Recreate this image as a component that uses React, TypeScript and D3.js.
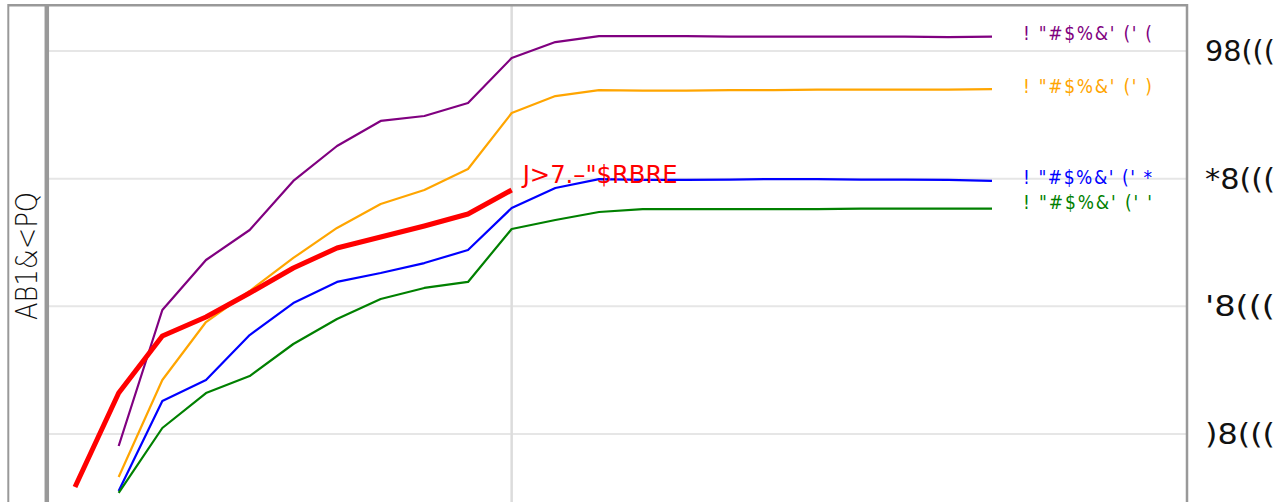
import React from 'react';
import * as d3 from 'd3';

// series values, index 0 = first x step
const purpleVals = [0.906, 1.971, 2.363, 2.598, 2.982, 3.256, 3.452, 3.491, 3.593, 3.945, 4.07, 4.117, 4.117, 4.117, 4.113, 4.113, 4.113, 4.113, 4.113, 4.109, 4.113];
const orangeVals = [0.663, 1.423, 1.877, 2.12, 2.379, 2.614, 2.802, 2.911, 3.076, 3.514, 3.647, 3.694, 3.69, 3.69, 3.694, 3.694, 3.698, 3.698, 3.698, 3.698, 3.702];
const blueVals = [0.554, 1.258, 1.423, 1.775, 2.026, 2.191, 2.261, 2.339, 2.441, 2.77, 2.927, 2.997, 2.99, 2.99, 2.993, 2.997, 2.997, 2.993, 2.993, 2.99, 2.982];
const greenVals = [0.538, 1.047, 1.321, 1.454, 1.705, 1.901, 2.057, 2.144, 2.191, 2.606, 2.676, 2.739, 2.762, 2.762, 2.762, 2.762, 2.762, 2.766, 2.766, 2.766, 2.766];
const redVals = [0.585, 1.321, 1.768, 1.916, 2.104, 2.3, 2.457, 2.543, 2.629, 2.723, 2.911];

const yTicks = [4, 3, 2, 1];
const yTickLabels = ['98(((', '*8(((', "'8(((", ')8((('];
const yTitle = 'AB1&<PQ';
const redNote = 'J>7.–"$RBRE';

const series = [
  { key: 'purple', vals: purpleVals, start: 1, color: '#800080', label: '! "#$%&\' (\' (', dy: 3 },
  { key: 'orange', vals: orangeVals, start: 1, color: '#FFA500', label: '! "#$%&\' (\' )', dy: 4 },
  { key: 'blue', vals: blueVals, start: 1, color: '#0000FF', label: '! "#$%&\' (\' *', dy: 3 },
  { key: 'green', vals: greenVals, start: 1, color: '#008000', label: '! "#$%&\' (\' \'', dy: 0 },
];

const W = 1287;
const H = 502;
const condensed = "'DejaVu Sans Condensed', 'Liberation Sans Narrow', sans-serif";

export default function App() {
  const x = d3.scaleLinear().domain([0, 21]).range([75, 992]);
  const y = d3.scaleLinear().domain([1, 4]).range([434, 51]);

  const line = d3.line<[number, number]>()
    .x(d => x(d[0]))
    .y(d => y(d[1]));

  const pts = (vals: number[], start: number) =>
    vals.map((v, i) => [i + start, v] as [number, number]);

  const redPts = pts(redVals, 0);
  const redEnd = redPts[redPts.length - 1];

  return (
    <div style={{ position: 'fixed', left: 0, top: 0, width: W, height: H, background: '#fff' }}>
      <svg width={W} height={H} style={{ display: 'block' }}>
        {/* grid */}
        {yTicks.map(t => (
          <line key={t} x1={49} x2={1186} y1={y(t)} y2={y(t)} stroke="#e6e6e6" strokeWidth={2} />
        ))}
        <line x1={x(10)} x2={x(10)} y1={6} y2={H} stroke="#dcdcdc" strokeWidth={2.5} />

        {/* frame */}
        <line x1={8} x2={1187} y1={5.3} y2={5.3} stroke="#999" strokeWidth={2.5} />
        <line x1={8.3} x2={8.3} y1={4} y2={H} stroke="#999" strokeWidth={2} />
        <line x1={1187} x2={1187} y1={4} y2={H} stroke="#999" strokeWidth={2.5} />
        <line x1={46.8} x2={46.8} y1={4} y2={H} stroke="#999" strokeWidth={4.5} />

        {/* y title */}
        <text
          transform={`translate(37, 256) rotate(-90)`}
          textAnchor="middle"
          fontFamily="'DejaVu Sans', sans-serif"
          fontWeight={300}
          fontSize={30}
          textLength={128}
          lengthAdjust="spacingAndGlyphs"
          fill="#111"
        >{yTitle}</text>

        {/* tick labels */}
        {yTicks.map((t, i) => (
          <text
            key={t}
            x={1205}
            y={y(t) + 10}
            fontFamily={condensed}
            fontSize={29}
            textLength={70}
            lengthAdjust="spacingAndGlyphs"
            fill="#111"
          >{yTickLabels[i]}</text>
        ))}

        {/* series */}
        {series.map(s => {
          const p = pts(s.vals, s.start);
          const last = p[p.length - 1];
          return (
            <g key={s.key}>
              <path d={line(p) || ''} fill="none" stroke={s.color} strokeWidth={2.2} strokeLinejoin="round" />
              <text
                x={1023}
                y={y(last[1]) + s.dy}
                fontFamily={condensed}
                fontSize={19}
                textLength={129}
                lengthAdjust="spacing"
                fill={s.color}
                style={{ whiteSpace: 'pre' }}
              >{s.label}</text>
            </g>
          );
        })}

        <path d={line(redPts) || ''} fill="none" stroke="#FF0000" strokeWidth={5} strokeLinejoin="round" />
        <text
          x={x(redEnd[0]) + 11}
          y={y(redEnd[1]) - 7}
          fontFamily={condensed}
          fontSize={25}
          textLength={155}
          lengthAdjust="spacingAndGlyphs"
          fill="#FF0000"
        >{redNote}</text>
      </svg>
    </div>
  );
}
